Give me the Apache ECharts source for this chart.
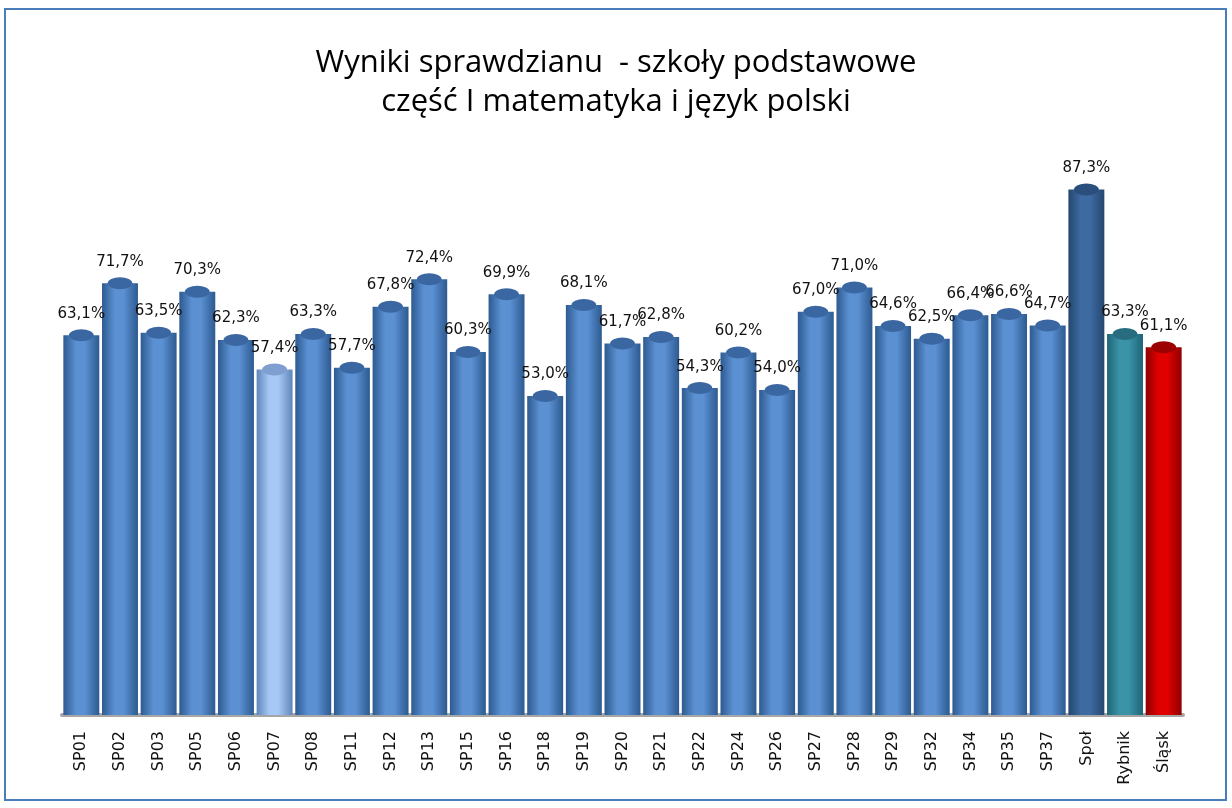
<!DOCTYPE html>
<html lang="pl">
<head>
    <meta charset="UTF-8">
    <title>Wyniki sprawdzianu</title>
    <script src="https://cdn.jsdelivr.net/npm/echarts@6/dist/echarts.min.js"></script>
    <style>
        html, body { margin: 0; padding: 0; background: #fff; }
    </style>
</head>
<body>
<div id="chart" style="width:1232px;height:808px;"></div>
<script>
    // dane
    var schools = ['SP01', 'SP02', 'SP03', 'SP05', 'SP06', 'SP07', 'SP08', 'SP11', 'SP12', 'SP13',
        'SP15', 'SP16', 'SP18', 'SP19', 'SP20', 'SP21', 'SP22', 'SP24', 'SP26', 'SP27',
        'SP28', 'SP29', 'SP32', 'SP34', 'SP35', 'SP37', 'Społ', 'Rybnik', 'Śląsk'];
    var results = [63.1, 71.7, 63.5, 70.3, 62.3, 57.4, 63.3, 57.7, 67.8, 72.4,
        60.3, 69.9, 53.0, 68.1, 61.7, 62.8, 54.3, 60.2, 54.0, 67.0,
        71.0, 64.6, 62.5, 66.4, 66.6, 64.7, 87.3, 63.3, 61.1];

    // kolory walcow
    var palette = {
        normal: { edge: '#2d5a90', mid: '#5b90d2', cap: '#3a67a1' },
        SP07:   { edge: '#5f86bb', mid: '#a6c8f5', cap: '#7e9fcf' },
        'Społ': { edge: '#24476f', mid: '#3e6aa2', cap: '#2b4f7c' },
        Rybnik: { edge: '#1f6577', mid: '#3b93a8', cap: '#276d7f' },
        'Śląsk': { edge: '#8e0000', mid: '#e00000', cap: '#9c0000' }
    };

    function styleFor(name) {
        return palette[name] || palette.normal;
    }

    function sideGradient(p) {
        return new echarts.graphic.LinearGradient(0, 0, 1, 0, [
            { offset: 0, color: p.edge },
            { offset: 0.35, color: p.mid },
            { offset: 0.6, color: p.mid },
            { offset: 1, color: p.edge }
        ]);
    }

    var barData = [];
    var capData = [];
    for (var i = 0; i < schools.length; i++) {
        var p = styleFor(schools[i]);
        barData.push({ value: results[i], itemStyle: { color: sideGradient(p) } });
        capData.push({ value: results[i], itemStyle: { color: p.cap } });
    }

    var myChart = echarts.init(document.getElementById('chart'));

    var option = {
        backgroundColor: '#fff',
        animation: false,
        title: {
            text: 'Wyniki sprawdzianu  - szkoły podstawowe\nczęść I matematyka i język polski',
            left: 'center',
            top: 39,
            textStyle: {
                fontFamily: 'Open Sans, sans-serif',
                fontSize: 31,
                fontWeight: 'normal',
                color: '#000',
                lineHeight: 39
            }
        },
        graphic: [{
            type: 'rect',
            shape: { x: 5, y: 9, width: 1221, height: 791 },
            style: { fill: 'none', stroke: '#4a7ebb', lineWidth: 2 },
            silent: true
        }],
        grid: {
            left: 62,
            top: 113,
            width: 1121,
            height: 602
        },
        xAxis: {
            type: 'category',
            data: schools,
            axisTick: { show: false },
            axisLine: { lineStyle: { color: '#a6a6a6', width: 4 } },
            axisLabel: {
                rotate: 90,
                margin: 16,
                fontFamily: 'DejaVu Sans, sans-serif',
                fontSize: 16,
                color: '#111'
            }
        },
        yAxis: {
            type: 'value',
            min: 0,
            max: 100,
            show: false,
            splitLine: { show: false }
        },
        series: [{
            type: 'bar',
            data: barData,
            barCategoryGap: '7%',
            z: 2,
            label: {
                show: true,
                position: 'top',
                distance: 14,
                fontFamily: 'DejaVu Sans, sans-serif',
                fontSize: 15,
                color: '#111',
                formatter: function (prm) {
                    return prm.value.toFixed(1).replace('.', ',') + '%';
                }
            }
        }, {
            type: 'pictorialBar',
            data: capData,
            symbol: 'circle',
            symbolSize: ['93%', 12],
            symbolPosition: 'end',
            symbolOffset: [0, '-50%'],
            z: 3,
            silent: true
        }]
    };

    myChart.setOption(option);
</script>
</body>
</html>
